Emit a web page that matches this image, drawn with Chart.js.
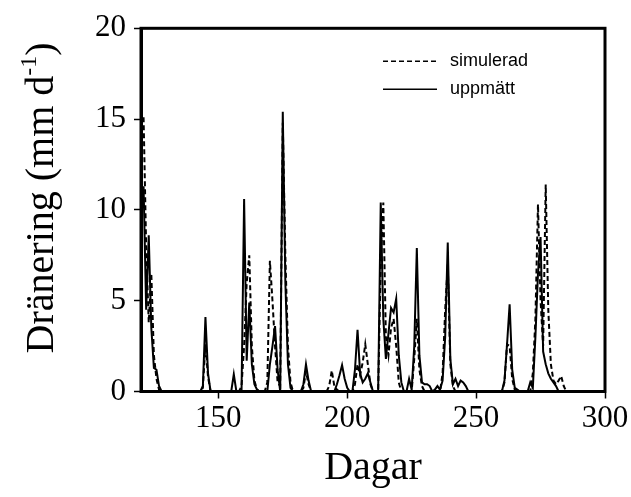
<!DOCTYPE html>
<html>
<head>
<meta charset="utf-8">
<script src="https://cdn.jsdelivr.net/npm/chart.js@4/dist/chart.umd.min.js"></script>
<style>
  html, body { margin: 0; padding: 0; background: #fff; }
  #wrap { width: 631px; height: 497px; position: relative; }
</style>
</head>
<body>
<div id="wrap"><canvas id="c"></canvas></div>
<script>
// ---- data ----
const obsDays = [121,122,123,124,125,126,127,128, 143,144,145,146,147, 155,156,157, 159,160,161,162,163,164,165,166, 169,170,171,172,173,174,175,176,177,178,179, 182,183,184,185,186, 195,196,197,198,199,200,201,202,203,204,205,206,207,208,209,210, 212,213,214,215,216,217,218,219,220,221,222, 223,224,225,226,227,228,229,230,231,232,233,234,235,236,237,238,239,240,241,242,243,244,245,246,247, 260,261,262,263,264,265,266,267, 270,271,272,273,274,275,276,277,278,279,280,281,282];
const obsVals = [11.3,4.5,8.6,3.5,1.3,1.2,0.3,0, 0,0.3,4.1,1.0,0, 0,0.95,0, 0,10.6,1.7,4.9,1.5,0.4,0.1,0, 0,1.5,2.5,3.6,1.2,0,15.4,6,1.5,0.2,0, 0,0.4,1.5,0.6,0, 0,0.4,0.9,1.45,0.7,0.2,0,0,1.2,3.4,1.0,0.5,0.7,1.0,0.5,0, 0,10.4,4.0,1.8,3.2,4.6,4.35,5.1,2.0,0.5,0, 0,0.7,0.1,2.5,7.9,2.0,0.5,0.4,0.4,0.3,0,0.1,0.3,0.1,0.6,3.0,8.2,1.8,0.4,0.7,0.3,0.6,0.5,0.3,0, 0,0.6,2.6,4.8,1.2,0.2,0.1,0, 0,0.5,0.2,3.0,6.5,8.5,2.2,1.5,1.0,0.7,0.5,0.3,0];
const simDays = [121,122,123,124,125,126,127,128, 143,144,145,146,147, 158,159,160,161,162,163,164,165,166, 168,169,170,171,172,173,174,175,176,177,178,179, 182,183,184,185,186, 192,193,194,195,196,197, 202,203,204,205,206,207,208,209,210, 212,213,214,215,216,217,218,219,220,221, 225,226,227,228,229,230, 236,237,238,239,240,241,242, 260,261,262,263,264,265,266, 271,272,273,274,275,276,277,278,279,280,281,282,283,284,285];
const simVals = [15.1,8.0,3.8,6.5,2.0,0.7,0.1,0, 0,0.2,2.6,0.8,0, 0,0.3,2.5,6.0,7.5,2.5,0.6,0.1,0, 0,0.5,7.2,5.0,2.5,0.5,0.3,14.8,7.5,2.5,0.5,0, 0,0.2,1.1,0.4,0, 0,0.3,1.15,0.3,0.1,0, 0,0.4,1.5,0.9,1.6,2.6,1.5,0.4,0, 0,7.0,10.4,3.0,2.0,3.5,4.0,2.5,0.5,0, 0,1.8,4.0,1.2,0.3,0, 0,1.0,4.5,7.0,1.5,0.3,0, 0,0.5,2.6,2.5,0.7,0.1,0, 0,1.0,4.0,10.3,5.0,2.5,11.4,4.5,1.5,0.6,0.4,0.6,0.85,0.3,0];
const xTicks = [150, 200, 250, 300];
const yTicks = [0, 5, 10, 15, 20];
const seriesNames = ['simulerad', 'uppmätt'];
const xTitle = 'Dagar';
const yTitleMain = 'Dränering (mm d';
const yTitleSup = '-1';
const yTitleEnd = ')';

const serif = '"Liberation Serif", "Times New Roman", serif';
const sans = '"Liberation Sans", Arial, sans-serif';

const framePlugin = {
  id: 'frame',
  afterDraw(chart) {
    const {ctx, chartArea: a} = chart;
    ctx.save();
    ctx.strokeStyle = '#000';
    ctx.lineWidth = 3;
    ctx.strokeRect(a.left, a.top, a.right - a.left, a.bottom - a.top);
    // legend
    const ds = chart.data.datasets;
    const lx0 = 383, lx1 = 437, tx = 450;
    const rows = [a.top + 33, a.top + 61];
    ctx.font = '18px ' + sans;
    ctx.textBaseline = 'middle';
    ctx.textAlign = 'left';
    ds.forEach((d, i) => {
      ctx.beginPath();
      ctx.lineWidth = 1.5;
      ctx.setLineDash(d.borderDash || []);
      ctx.moveTo(lx0, rows[i]);
      ctx.lineTo(lx1, rows[i]);
      ctx.stroke();
      ctx.setLineDash([]);
      ctx.fillStyle = '#000';
      ctx.fillText(d.label, tx, rows[i]);
    });
    // y title with superscript
    const big = '40px ' + serif, small = '24px ' + serif;
    ctx.font = big;
    const w1 = ctx.measureText(yTitleMain).width;
    const w3 = ctx.measureText(yTitleEnd).width;
    ctx.font = small;
    const w2 = ctx.measureText(yTitleSup).width;
    const total = w1 + w2 + w3;
    ctx.translate(53, (a.top + a.bottom) / 2 - 12);
    ctx.rotate(-Math.PI / 2);
    ctx.textBaseline = 'alphabetic';
    let x = -total / 2;
    ctx.font = big;
    ctx.fillText(yTitleMain, x, 0);
    x += w1;
    ctx.font = small;
    ctx.fillText(yTitleSup, x, -17);
    x += w2;
    ctx.font = big;
    ctx.fillText(yTitleEnd, x, 0);
    ctx.restore();
  }
};

new Chart(document.getElementById('c'), {
  type: 'line',
  data: {
    datasets: [
      {
        label: seriesNames[0],
        data: simDays.map((d, i) => ({x: d, y: simVals[i]})),
        borderColor: '#000',
        borderWidth: 2,
        borderDash: [5, 3],
        pointRadius: 0,
        tension: 0,
        fill: false
      },
      {
        label: seriesNames[1],
        data: obsDays.map((d, i) => ({x: d, y: obsVals[i]})),
        borderColor: '#000',
        borderWidth: 2,
        pointRadius: 0,
        tension: 0,
        fill: false
      }
    ]
  },
  options: {
    responsive: true,
    maintainAspectRatio: false,
    animation: false,
    layout: { padding: { left: 0, top: 28.3, right: 26, bottom: 0 } },
    plugins: { legend: { display: false }, tooltip: { enabled: false } },
    scales: {
      x: {
        type: 'linear',
        min: 120, max: 300,
        afterBuildTicks: s => { s.ticks = xTicks.map(v => ({value: v})); },
        afterFit: s => { s.height = 105.5; },
        grid: { drawOnChartArea: false, drawTicks: true, tickLength: 7, tickWidth: 1.5, tickColor: '#000' },
        border: { display: true, color: '#000', width: 3 },
        ticks: { color: '#000', font: { family: serif, size: 31 }, padding: 2, maxRotation: 0 },
        title: { display: true, text: xTitle, color: '#000', font: { family: serif, size: 40 }, padding: { top: 0, bottom: 5 } }
      },
      y: {
        type: 'linear',
        min: 0, max: 20,
        afterBuildTicks: s => { s.ticks = yTicks.map(v => ({value: v})); },
        afterFit: s => { s.width = 141; },
        grid: { drawOnChartArea: false, drawTicks: true, tickLength: 7, tickWidth: 1.5, tickColor: '#000' },
        border: { display: true, color: '#000', width: 3 },
        ticks: { color: '#000', font: { family: serif, size: 31 }, padding: 8 }
      }
    }
  },
  plugins: [framePlugin]
});
</script>
</body>
</html>
